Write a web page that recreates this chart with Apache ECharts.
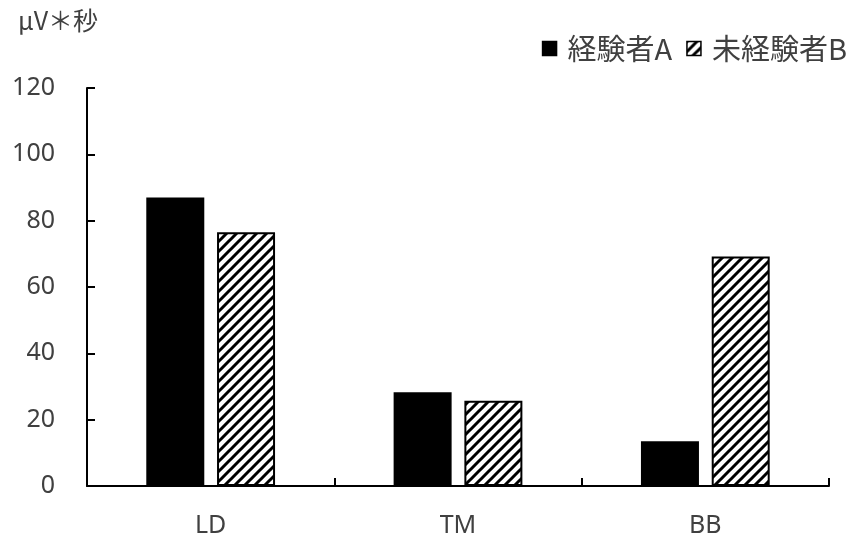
<!DOCTYPE html>
<html>
<head>
<meta charset="utf-8">
<script src="https://cdn.jsdelivr.net/npm/echarts@6/dist/echarts.min.js"></script>
<style>
  html, body { margin: 0; padding: 0; background: #fff; }
  #chart { width: 856px; height: 543px; }
</style>
</head>
<body>
<div id="chart"></div>
<script>
// Muscle activity (integrated EMG) per muscle, experienced vs. inexperienced
const categories = ['LD', 'TM', 'BB'];
const experiencedA = [87, 28.3, 13.5];
const inexperiencedB = [76.5, 25.7, 69.2];
const yTicks = { min: 0, max: 120, interval: 20 };
const unitLabel = 'μV＊秒';
const seriesNames = ['経験者A', '未経験者B'];

// Diagonal-stripe fill for the second series
function makeHatch() {
  const s = 10;
  const c = document.createElement('canvas');
  c.width = s; c.height = s;
  const g = c.getContext('2d');
  g.fillStyle = '#fff';
  g.fillRect(0, 0, s, s);
  g.strokeStyle = '#000';
  g.lineWidth = 3;
  g.lineCap = 'square';
  g.beginPath();
  g.moveTo(-2, s + 2); g.lineTo(s + 2, -2);
  g.moveTo(-2, 2); g.lineTo(2, -2);
  g.moveTo(s - 2, s + 2); g.lineTo(s + 2, s - 2);
  g.stroke();
  return c;
}
const hatch = makeHatch();

const cjkFont = '"Noto Sans CJK JP", "Noto Sans", sans-serif';
const latinFont = '"Noto Sans", "Noto Sans CJK JP", sans-serif';
const textColor = '#404040';

const chart = echarts.init(document.getElementById('chart'), null, { renderer: 'canvas' });
chart.setOption({
  animation: false,
  backgroundColor: '#fff',
  textStyle: { fontFamily: cjkFont },
  title: {
    text: unitLabel,
    left: 13, top: 3,
    textStyle: { fontSize: 25, fontWeight: 'normal', color: textColor, fontFamily: cjkFont }
  },
  legend: {
    right: 4, top: 29,
    itemWidth: 14, itemHeight: 14, itemGap: 14,
    icon: 'rect',
    itemStyle: { borderColor: '#000', borderWidth: 1.5 },
    textStyle: { fontSize: 29, color: textColor, fontFamily: cjkFont, padding: [0, 0, 0, 6] },
    data: seriesNames
  },
  grid: { left: 87, right: 27, top: 88, bottom: 57 },
  xAxis: {
    type: 'category',
    data: categories,
    axisLine: { lineStyle: { color: '#000', width: 2 } },
    axisTick: { show: true, inside: true, length: 8, alignWithLabel: false, lineStyle: { color: '#000', width: 2 } },
    axisLabel: { margin: 27, fontSize: 25, color: textColor, fontFamily: latinFont }
  },
  yAxis: {
    type: 'value',
    min: yTicks.min, max: yTicks.max, interval: yTicks.interval,
    axisLine: { show: true, lineStyle: { color: '#000', width: 2 } },
    axisTick: { show: true, inside: true, length: 8, lineStyle: { color: '#000', width: 2 } },
    splitLine: { show: false },
    axisLabel: { margin: 32, fontSize: 25, color: textColor, fontFamily: latinFont }
  },
  series: [
    {
      name: seriesNames[0],
      type: 'bar',
      data: experiencedA,
      barWidth: 58,
      barGap: '22%',
      itemStyle: { color: '#000' }
    },
    {
      name: seriesNames[1],
      type: 'bar',
      data: inexperiencedB,
      barWidth: 58,
      itemStyle: {
        color: { image: hatch, repeat: 'repeat' },
        borderColor: '#000',
        borderWidth: 2
      }
    }
  ]
});
</script>
</body>
</html>
